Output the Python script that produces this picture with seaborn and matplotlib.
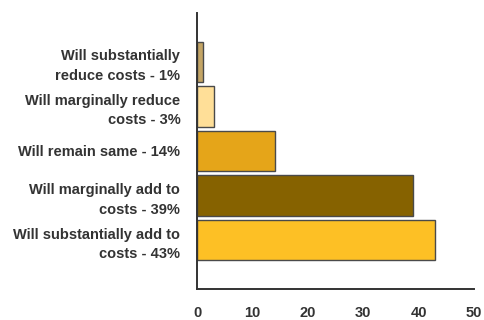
import matplotlib
matplotlib.use("Agg")
import matplotlib.pyplot as plt
import seaborn as sns
import pandas as pd

categories = [
    "Will substantially\nreduce costs - 1%",
    "Will marginally reduce\ncosts - 3%",
    "Will remain same - 14%",
    "Will marginally add to\ncosts - 39%",
    "Will substantially add to\ncosts - 43%",
]
values = [1, 3, 14, 39, 43]
colors = ["#C4A565", "#FFDF98", "#E5A519", "#866200", "#FDC025"]
x_ticks = [0, 10, 20, 30, 40, 50]

df = pd.DataFrame({"category": categories, "value": values})

sns.set_style("white")
plt.rcParams["font.family"] = ["Liberation Sans", "DejaVu Sans"]

fig = plt.figure(figsize=(4.84, 3.20), dpi=100)
ax = fig.add_axes([197 / 484, 1 - 289 / 320, (474 - 197) / 484, (289 - 13) / 320])

sns.barplot(data=df, x="value", y="category", hue="category", palette=colors,
            legend=False, width=0.9, edgecolor="#4a4a4a", linewidth=1.0,
            saturation=1, ax=ax)

ax.set_xlim(0, 50)
ax.set_ylim(5.1, -1.1)
ax.set_xticks(x_ticks)
ax.set_xticklabels([str(t) for t in x_ticks])
ax.set_xlabel("")
ax.set_ylabel("")

for side in ["top", "right"]:
    ax.spines[side].set_visible(False)
for side in ["left", "bottom"]:
    ax.spines[side].set_color("#333333")
    ax.spines[side].set_linewidth(1.4)

ax.tick_params(axis="x", direction="in", length=5, width=1.4, color="#333333",
               pad=12, labelsize=10.5, labelcolor="#333333")
ax.tick_params(axis="y", length=0, pad=12, labelsize=10.5, labelcolor="#333333")
for lbl in ax.get_xticklabels():
    lbl.set_fontweight("bold")
for lbl in ax.get_yticklabels():
    lbl.set_fontweight("bold")
    lbl.set_linespacing(1.5)

fig.savefig("out.png", dpi=100)
